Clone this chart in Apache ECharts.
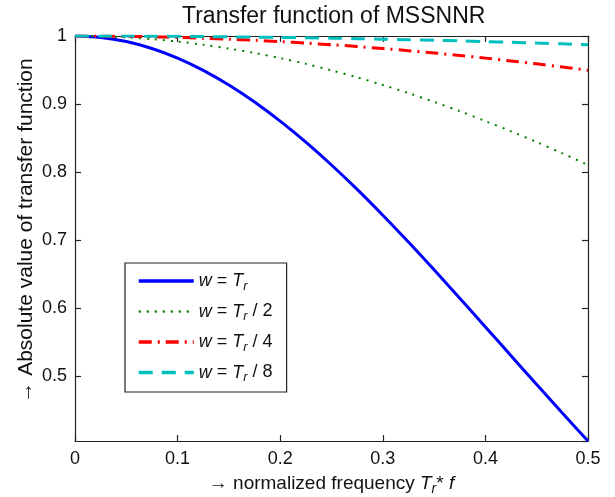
<!DOCTYPE html>
<html>
<head>
<meta charset="utf-8">
<script src="https://cdn.jsdelivr.net/npm/echarts@6/dist/echarts.min.js"></script>
<style>
  html, body { margin: 0; padding: 0; background: #fff; }
  #chart { width: 615px; height: 497px; }
</style>
</head>
<body>
<div id="chart"></div>
<script>
// normalized frequency Tr*f
var freq = [0, 0.025, 0.05, 0.075, 0.1, 0.125, 0.15, 0.175, 0.2, 0.225, 0.25,
            0.275, 0.3, 0.325, 0.35, 0.375, 0.4, 0.425, 0.45, 0.475, 0.5];
// |H|
var wTr = [1, 0.9979, 0.9918, 0.9816, 0.9675, 0.9496, 0.9281, 0.9032, 0.8751, 0.8442, 0.8106,
           0.7747, 0.7368, 0.6974, 0.6566, 0.6150, 0.5728, 0.5304, 0.4881, 0.4463, 0.4053];
var wTr2 = [1, 0.9995, 0.9980, 0.9954, 0.9918, 0.9872, 0.9816, 0.9751, 0.9675, 0.9591, 0.9496,
            0.9393, 0.9281, 0.9161, 0.9032, 0.8896, 0.8751, 0.8600, 0.8442, 0.8277, 0.8106];
var wTr4 = [1, 0.9999, 0.9995, 0.9988, 0.9980, 0.9968, 0.9954, 0.9937, 0.9918, 0.9896, 0.9872,
            0.9846, 0.9816, 0.9785, 0.9751, 0.9714, 0.9675, 0.9634, 0.9591, 0.9545, 0.9496];
var wTr8 = [1, 1.0000, 0.9999, 0.9997, 0.9995, 0.9992, 0.9988, 0.9984, 0.9980, 0.9974, 0.9968,
            0.9961, 0.9954, 0.9946, 0.9937, 0.9928, 0.9918, 0.9908, 0.9896, 0.9885, 0.9872];
var seriesNames = ['w = Tr', 'w = Tr / 2', 'w = Tr / 4', 'w = Tr / 8'];

function pairs(ys) {
    return freq.map(function (f, i) { return [f, ys[i]]; });
}

var chart = echarts.init(document.getElementById('chart'));
var font = 'Liberation Sans, Arial, Helvetica, sans-serif';
var frame = {show: true, onZero: false, lineStyle: {color: '#222', width: 1.2}};
var ticksIn = {show: true, inside: true, length: 6, lineStyle: {color: '#222', width: 1.2}};

var xBase = {
    type: 'value', min: 0, max: 0.5, interval: 0.1,
    axisLine: frame, axisTick: ticksIn, splitLine: {show: false}
};
var yBase = {
    type: 'value', min: 0.4053, max: 1,
    minInterval: 0.1, maxInterval: 0.1,
    axisLine: frame, axisTick: ticksIn, splitLine: {show: false}
};

var option = {
    backgroundColor: '#fff',
    animation: false,
    textStyle: {fontFamily: font},
    title: {
        text: 'Transfer function of MSSNNR',
        left: 177,
        top: 0,
        textStyle: {fontSize: 23, fontWeight: 'normal', color: '#111', fontFamily: font}
    },
    grid: {left: 75, right: 27, top: 36, bottom: 56, outerBoundsMode: 'none', containLabel: false},
    legend: {
        orient: 'vertical',
        left: 125,
        top: 263,
        padding: [9, 14, 8, 12],
        itemWidth: 55,
        itemHeight: 16,
        itemGap: 10,
        borderColor: '#222',
        borderWidth: 1.2,
        backgroundColor: '#fff',
        itemStyle: {opacity: 0},
        data: [
            {name: seriesNames[0], lineStyle: {width: 3.5}},
            {name: seriesNames[1], lineStyle: {width: 2.5}},
            {name: seriesNames[2], lineStyle: {width: 3.5}},
            {name: seriesNames[3], lineStyle: {width: 3.5}}
        ],
        formatter: function (name) {
            var rest = name.replace('w = Tr', '');
            return '{i|w}{n| = }{i|T}{s|r}{n|' + rest + '}';
        },
        textStyle: {
            color: '#111',
            rich: {
                n: {fontSize: 18, fontFamily: font, color: '#111'},
                i: {fontSize: 18, fontStyle: 'italic', fontFamily: font, color: '#111'},
                s: {fontSize: 13, fontStyle: 'italic', fontFamily: font, color: '#111', padding: [10, 0, 0, 0]}
            }
        }
    },
    xAxis: [
        Object.assign({}, xBase, {
            position: 'bottom',
            axisLabel: {fontSize: 18, color: '#111', margin: 9, fontFamily: font},
            name: '{n|\u2192 normalized frequency }{i|T}{s|r}{n|* }{i|f}',
            nameLocation: 'middle',
            nameGap: 31,
            nameTextStyle: {
                rich: {
                    n: {fontSize: 19, fontFamily: font, color: '#111'},
                    i: {fontSize: 19, fontStyle: 'italic', fontFamily: font, color: '#111'},
                    s: {fontSize: 14, fontStyle: 'italic', fontFamily: font, color: '#111', padding: [10, 0, 0, 0]}
                }
            }
        }),
        Object.assign({}, xBase, {position: 'top', axisLabel: {show: false}})
    ],
    yAxis: [
        Object.assign({}, yBase, {
            position: 'left',
            axisLabel: {fontSize: 18, color: '#111', margin: 8, fontFamily: font, showMinLabel: false},
            name: '\u2192 Absolute value of transfer function',
            nameLocation: 'middle',
            nameGap: 38,
            nameMoveOverlap: false,
            nameTextStyle: {fontSize: 21, color: '#111', fontFamily: font, padding: [0, 0, 0, 16]}
        }),
        Object.assign({}, yBase, {position: 'right', axisLabel: {show: false}})
    ],
    series: [
        {
            name: seriesNames[0], type: 'line', data: pairs(wTr), symbol: 'none',
            smooth: 0.3,
            lineStyle: {color: '#0000ff', width: 3, type: 'solid'},
            itemStyle: {color: '#0000ff'}
        },
        {
            name: seriesNames[1], type: 'line', data: pairs(wTr2), symbol: 'none',
            smooth: 0.3,
            lineStyle: {color: '#008000', width: 2, type: [2, 6]},
            itemStyle: {color: '#008000'}
        },
        {
            name: seriesNames[2], type: 'line', data: pairs(wTr4), symbol: 'none',
            smooth: 0.3,
            lineStyle: {color: '#ff0000', width: 3, type: [13, 6, 2, 6]},
            itemStyle: {color: '#ff0000'}
        },
        {
            name: seriesNames[3], type: 'line', data: pairs(wTr8), symbol: 'none',
            smooth: 0.3,
            lineStyle: {color: '#00bfbf', width: 3, type: [14, 9]},
            itemStyle: {color: '#00bfbf'}
        }
    ]
};
chart.setOption(option);
</script>
</body>
</html>
